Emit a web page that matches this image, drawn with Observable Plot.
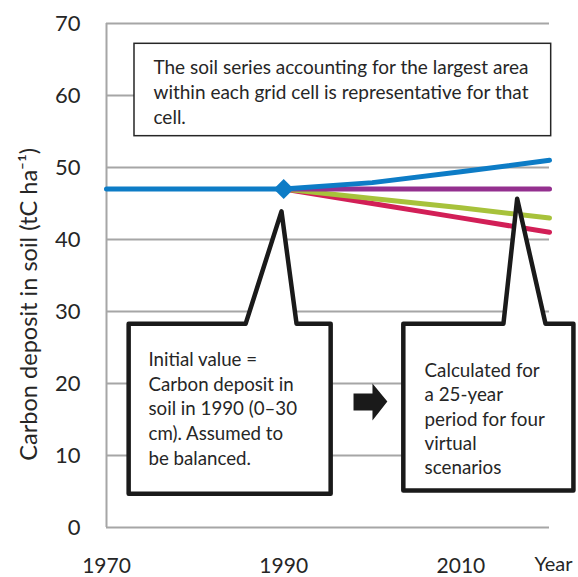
<!DOCTYPE html>
<html><head><meta charset="utf-8">
<script src="https://cdn.jsdelivr.net/npm/d3@7"></script>
<script src="https://cdn.jsdelivr.net/npm/@observablehq/plot@0.6"></script>
<style>body{margin:0;background:#fff} svg{overflow:visible}</style>
</head><body><div id="chart"></div>
<script>
// ---- data ----
const historyYears = [1970, 1990];
const historyValues = [47, 47];
const scenarioYears = [1990, 2000, 2010, 2020];
const scenarioBlue = [47, 47.9, 49.4, 51];
const scenarioPurple = [47, 47, 47, 47];
const scenarioGreen = [47, 45.7, 44.4, 43];
const scenarioRed = [47, 45, 43, 41];
const yTicks = [0, 10, 20, 30, 40, 50, 60, 70];
const xTicks = [1970, 1990, 2010];
const initialPoint = [{year: 1990, value: 47}];

const noteTop = "The soil series accounting for the largest area\nwithin each grid cell is representative for that\ncell.";
const noteLeft = "Initial value =\nCarbon deposit in\nsoil in 1990 (0\u201330\ncm). Assumed to\nbe balanced.";
const noteRight = "Calculated for\na 25-year\nperiod for four\nvirtual\nscenarios";
const yTitle = "Carbon deposit in soil (tC ha\u207B\u00B9)";
const xTitle = "Year";

// annotation geometry in data units (year, value)
const topBox = [{x1: 1973.16, x2: 2020.19, y1: 54.35, y2: 67.18}];
const leftCallout = [
  [1984.0, 4.68], [1972.5, 4.68], [1972.5, 28.29], [1985.7, 28.29], [1989.75, 43.9],
  [1991.45, 28.29], [1995.3, 28.29], [1995.3, 4.68], [1984.0, 4.68]
].map(([x, y]) => ({x, y}));
const rightCallout = [
  [2013.3, 5.14], [2003.5, 5.14], [2003.5, 28.29], [2014.8, 28.29], [2016.35, 45.65],
  [2019.55, 28.29], [2022.7, 28.29], [2022.7, 5.14], [2013.3, 5.14]
].map(([x, y]) => ({x, y}));
const arrowShape = [
  [1997.88, 18.61], [2000.02, 18.61], [2000.02, 20.0], [2001.7, 17.5],
  [2000.02, 14.86], [2000.02, 16.25], [1997.88, 16.25], [1997.88, 18.61]
].map(([x, y]) => ({x, y}));

// ---- build series table ----
const series = [];
const addSeries = (name, ys, vs) => ys.forEach((y, i) => series.push({name, year: y, value: vs[i]}));
addSeries("red", scenarioYears, scenarioRed);
addSeries("green", scenarioYears, scenarioGreen);
addSeries("purple", scenarioYears, scenarioPurple);
addSeries("blue", historyYears.concat(scenarioYears.slice(1)), historyValues.concat(scenarioBlue.slice(1)));

const colors = {red: "#d21f57", green: "#a7c23b", purple: "#94308f", blue: "#0d7cc6"};

const chart = Plot.plot({
  width: 578, height: 577,
  marginLeft: 106, marginRight: 29, marginTop: 23, marginBottom: 50,
  style: {fontFamily: "Lato, sans-serif", fontSize: "22px", color: "#262626", background: "white", overflow: "visible"},
  x: {domain: [1970, 2020]},
  y: {domain: [0, 70]},
  marks: [
    Plot.ruleY(yTicks, {stroke: "#a6a6a6", strokeWidth: 2}),
    Plot.ruleX([1970], {stroke: "#a6a6a6", strokeWidth: 2}),
    Plot.rect(topBox, {x1: "x1", x2: "x2", y1: "y1", y2: "y2", fill: "white", stroke: "#262626", strokeWidth: 1.5}),
    ...["red", "green", "purple", "blue"].map(n =>
      Plot.line(series.filter(d => d.name === n), {x: "year", y: "value", stroke: colors[n], strokeWidth: 5})
    ),
    Plot.dot(initialPoint, {x: "year", y: "value", symbol: "diamond2", r: 9, fill: colors.blue}),
    Plot.line(leftCallout, {x: "x", y: "y", fill: "white", stroke: "#1a1a1a", strokeWidth: 4.5, strokeLinejoin: "round"}),
    Plot.line(rightCallout, {x: "x", y: "y", fill: "white", stroke: "#1a1a1a", strokeWidth: 4.5, strokeLinejoin: "round"}),
    Plot.line(arrowShape, {x: "x", y: "y", fill: "#1a1a1a", stroke: "none"}),
    Plot.text([{x: 1975.3, y: 65.5, t: noteTop}], {x: "x", y: "y", text: "t", textAnchor: "start", lineAnchor: "top", fontSize: 19, lineHeight: 1.316, fill: "#262626"}),
    Plot.text([{x: 1974.74, y: 24.85, t: noteLeft}], {x: "x", y: "y", text: "t", textAnchor: "start", lineAnchor: "top", fontSize: 18.7, lineHeight: 1.32, fill: "#262626"}),
    Plot.text([{x: 2005.9, y: 23.25, t: noteRight}], {x: "x", y: "y", text: "t", textAnchor: "start", lineAnchor: "top", fontSize: 18.8, lineHeight: 1.287, fill: "#262626"}),
    Plot.text([{x: 2020.45, y: -4.03, t: xTitle}], {x: "x", y: "y", text: "t", textAnchor: "middle", lineAnchor: "top", fontSize: 20, fill: "#262626"}),
    Plot.text([{x: 1961.3, y: 31.0, t: yTitle}], {x: "x", y: "y", text: "t", rotate: -90, textAnchor: "middle", lineAnchor: "middle", fontSize: 21.5, fill: "#262626"}),
    Plot.axisY(yTicks, {tickSize: 0, tickPadding: 26, fontSize: 22, label: null}),
    Plot.axisX(xTicks, {tickSize: 0, tickPadding: 31, fontSize: 21, tickFormat: d => String(d), label: null})
  ]
});
document.getElementById("chart").appendChild(chart);

// fit the rotated axis title to the reference's length (~313px)
d3.select(chart).selectAll("text").each(function () {
  if (this.textContent === yTitle) {
    const len = this.getComputedTextLength();
    if (len > 0) {
      const fs = 21.5 * 313 / len;
      this.setAttribute("font-size", fs.toFixed(2));
      this.style.fontSize = fs.toFixed(2) + "px";
    }
  }
});
</script></body></html>
